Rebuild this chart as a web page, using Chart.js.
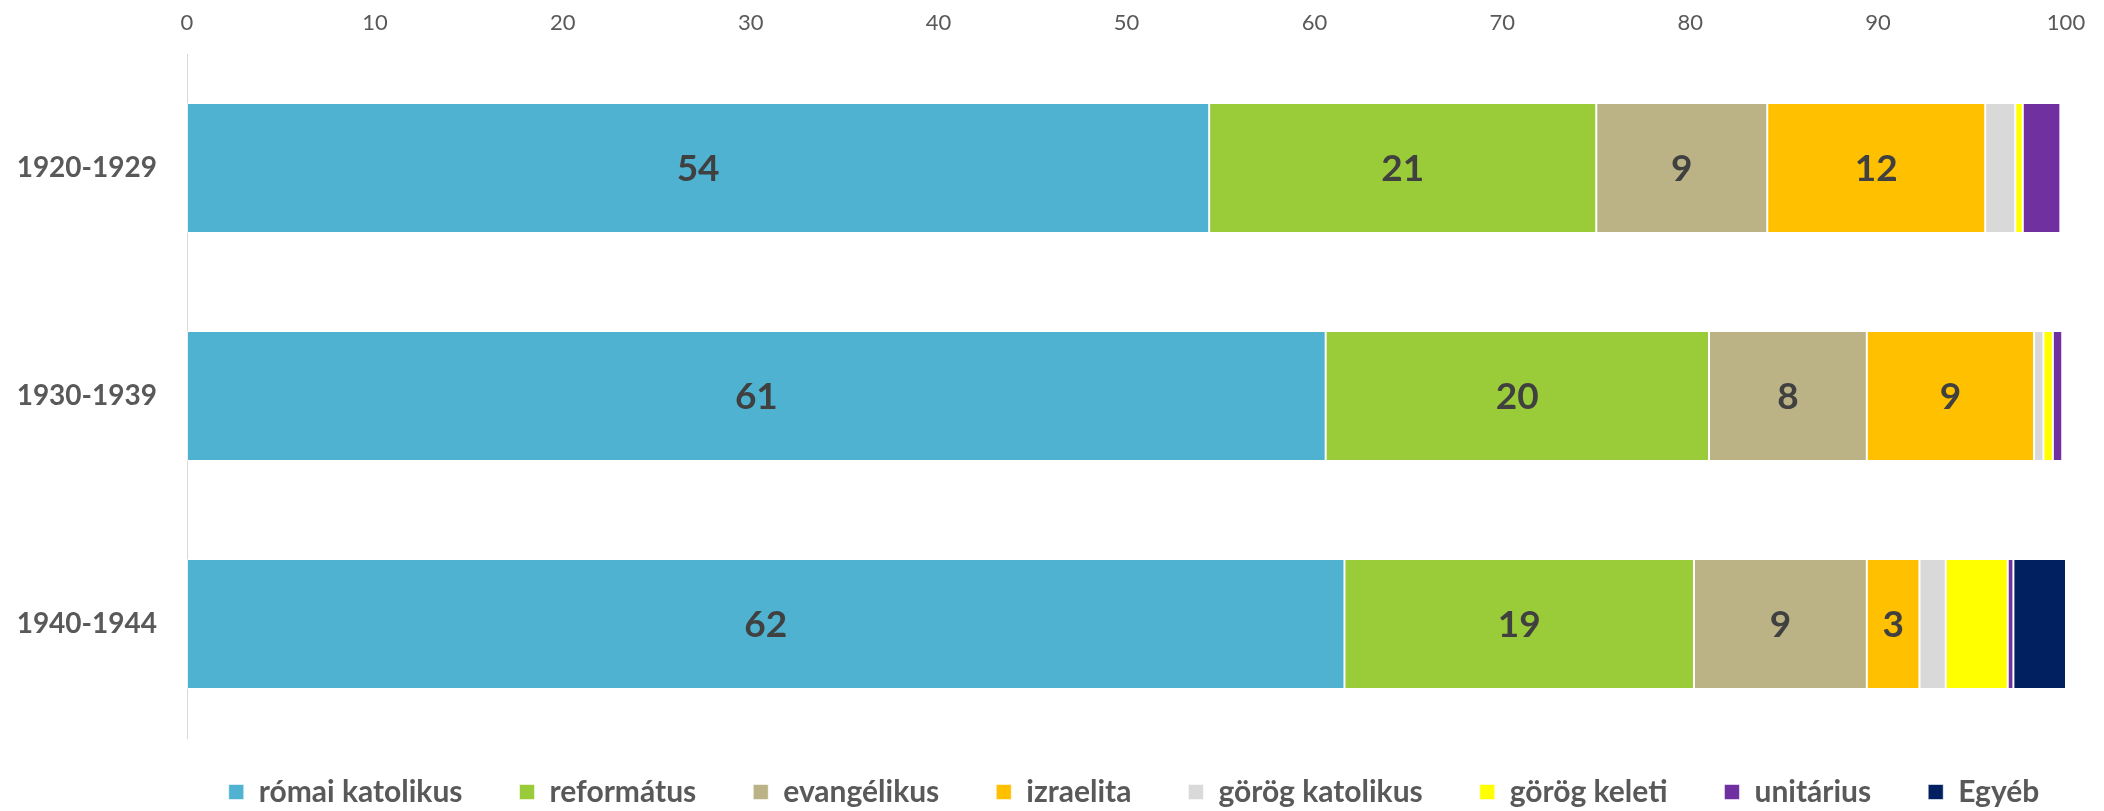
<!DOCTYPE html>
<html>
<head>
<meta charset="utf-8">
<script src="https://cdn.jsdelivr.net/npm/chart.js@4/dist/chart.umd.min.js"></script>
<style>
  html, body { margin: 0; padding: 0; background: #ffffff; }
  #wrap { width: 2104px; height: 811px; position: relative; }
</style>
</head>
<body>
<div id="wrap"><canvas id="c"></canvas></div>
<script>
const categories = ['1920-1929', '1930-1939', '1940-1944'];
const seriesNames = ['római katolikus', 'református', 'evangélikus', 'izraelita', 'görög katolikus', 'görög keleti', 'unitárius', 'Egyéb'];
const romaiKatolikus = [54.4, 60.6, 61.6];
const reformatus     = [20.6, 20.4, 18.6];
const evangelikus    = [9.1, 8.4, 9.2];
const izraelita      = [11.6, 8.9, 2.8];
const gorogKatolikus = [1.6, 0.5, 1.4];
const gorogKeleti    = [0.4, 0.5, 3.3];
const unitarius      = [2.0, 0.5, 0.3];
const egyeb          = [0, 0, 2.8];
const xTicks = [0, 10, 20, 30, 40, 50, 60, 70, 80, 90, 100];
const labelledSeries = [0, 1, 2, 3];

const seriesValues = [romaiKatolikus, reformatus, evangelikus, izraelita, gorogKatolikus, gorogKeleti, unitarius, egyeb];
const colors = ['#4EB2D0', '#9ACB38', '#BBB386', '#FFC000', '#D9D9D9', '#FFFF00', '#7030A0', '#002060'];

const FONT = 'Lato, "Open Sans", sans-serif';
const TEXT = '#595959';
const LEGEND_PAD = 57;
const LEGEND_FONT = 30;

const valueLabels = {
  id: 'valueLabels',
  afterDatasetsDraw(chart) {
    const ctx = chart.ctx;
    ctx.save();
    ctx.font = 'bold 37px ' + FONT;
    ctx.fillStyle = '#404040';
    ctx.textAlign = 'center';
    ctx.textBaseline = 'middle';
    labelledSeries.forEach(di => {
      const meta = chart.getDatasetMeta(di);
      meta.data.forEach((el, i) => {
        const v = chart.data.datasets[di].data[i];
        if (!v) return;
        const p = el.getCenterPoint();
        ctx.fillText(String(Math.round(v)), p.x, p.y + 1);
      });
    });
    ctx.restore();
  }
};

const legendSize = {
  id: 'legendSize',
  afterInit(chart) {
    const lg = chart.legend;
    if (!lg) return;
    const orig = lg.fit;
    lg.fit = function () {
      this.maxWidth = 2104;
      orig.call(this);
      this.height = 73;
    };
  },
  afterLayout(chart) {
    const lg = chart.legend;
    if (!lg) return;
    const c = 1134;
    lg.left = c - 1050;
    lg.right = c + 1050;
    lg.width = 2100;
    lg.top = 792 - LEGEND_PAD - LEGEND_FONT / 2;
    lg.bottom = chart.height;
    lg.height = lg.bottom - lg.top;
  }
};

new Chart(document.getElementById('c'), {
  type: 'bar',
  data: {
    labels: categories,
    datasets: seriesNames.map((name, i) => ({
      label: name,
      data: seriesValues[i],
      backgroundColor: colors[i],
      borderColor: 'rgba(255,255,255,0.55)',
      borderWidth: 1,
      borderSkipped: false,
      barPercentage: 0.57,
      categoryPercentage: 1.0
    }))
  },
  options: {
    indexAxis: 'y',
    responsive: true,
    maintainAspectRatio: false,
    animation: false,
    layout: { padding: { left: 0, right: 38, top: 0, bottom: 0 } },
    scales: {
      x: {
        position: 'top',
        stacked: true,
        min: 0,
        max: 100,
        afterBuildTicks(scale) { scale.ticks = xTicks.map(v => ({ value: v })); },
        afterFit(scale) { scale.height = 54; },
        grid: { display: false, drawTicks: false },
        border: { display: false },
        ticks: { padding: 18, color: TEXT, font: { family: FONT, size: 22 } }
      },
      y: {
        stacked: true,
        afterFit(scale) { scale.width = 187; },
        grid: { display: false, drawTicks: false },
        border: { display: true, color: '#D9D9D9', width: 1 },
        ticks: { padding: 30, color: TEXT, font: { family: FONT, size: 28, weight: 'bold' } }
      }
    },
    plugins: {
      legend: {
        position: 'bottom',
        fullSize: false,
        labels: {
          boxWidth: 15,
          boxHeight: 15,
          padding: LEGEND_PAD,
          color: TEXT,
          font: { family: FONT, size: LEGEND_FONT, weight: 'bold' }
        }
      },
      tooltip: { enabled: false }
    }
  },
  plugins: [valueLabels, legendSize]
});
</script>
</body>
</html>
